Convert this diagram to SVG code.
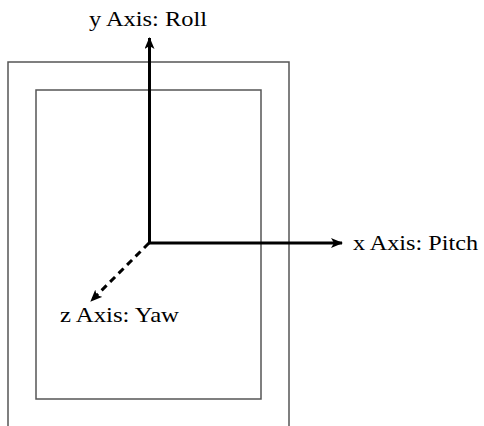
<svg xmlns="http://www.w3.org/2000/svg" width="484" height="426" viewBox="0 0 484 426">
<style>
.frame{fill:none;stroke:#555;stroke-width:1.5}
.axis{stroke:#000;stroke-width:3;fill:none}
.lbl{font-family:"Liberation Serif","Times New Roman",serif;font-size:22px;fill:#000}
</style>
<defs>
<marker id="ah" viewBox="0 0 12 10" refX="11" refY="5" markerWidth="12" markerHeight="10" markerUnits="userSpaceOnUse" orient="auto">
<path d="M0,0 L12,5 L0,10 L3,5 Z" fill="#000"/>
</marker>
</defs>
<rect width="484" height="426" fill="#fff"/>
<g id="outer-frame"><path class="frame" d="M8,430 V62 H289 V430"/></g>
<g id="inner-frame"><rect class="frame" x="36" y="90" width="225" height="309"/></g>
<g id="connectors">
<path class="axis" d="M149.5,243 V38" marker-end="url(#ah)"/>
<path class="axis" d="M148,243 H342" marker-end="url(#ah)"/>
<path class="axis" d="M149,243 L91,301" stroke-dasharray="7,5" marker-end="url(#ah)"/>
</g>
<g id="y-label"><text class="lbl" x="89" y="26" textLength="118" lengthAdjust="spacingAndGlyphs">y Axis: Roll</text></g>
<g id="x-label"><text class="lbl" x="353" y="250" textLength="125" lengthAdjust="spacingAndGlyphs">x Axis: Pitch</text></g>
<g id="z-label"><text class="lbl" x="60" y="322" textLength="119" lengthAdjust="spacingAndGlyphs">z Axis: Yaw</text></g>
</svg>
